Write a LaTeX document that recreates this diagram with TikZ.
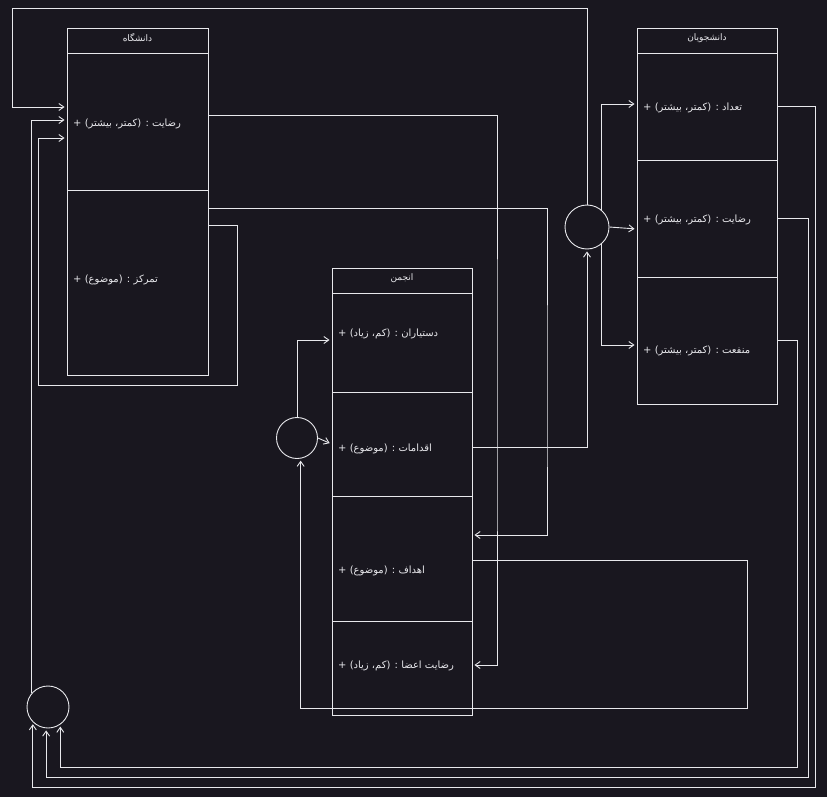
\documentclass[tikz,border=0pt]{standalone}
\usepackage{fontspec}
\TeXXeTstate=1
\newfontfamily\arabicfont[Script=Arabic]{DejaVu Sans}
\usetikzlibrary{arrows.meta}
\definecolor{bg}{RGB}{25,23,31}
\definecolor{ink}{RGB}{232,232,236}
\tikzset{
  row/.style={draw=ink, line width=0.9pt, rectangle, inner sep=0pt},
  txt/.style={text=ink, anchor=west, inner sep=0pt, font=\arabicfont\fontsize{10}{12}\selectfont},
  ttl/.style={text=ink, inner sep=0pt, font=\arabicfont\fontsize{9}{11}\selectfont},
  knot/.style={draw=ink, line width=0.9pt, circle, inner sep=0pt},
  arr/.style={draw=ink, line width=0.9pt, shorten >=2pt, -{Straight Barb[length=5pt,width=7pt]}}
}
\begin{document}
\begin{tikzpicture}[x=1pt,y=-1pt]
\fill[bg] (0,0) rectangle (827,797);
\useasboundingbox (0,0) rectangle (827,797);
% university
\node[row, minimum width=141pt, minimum height=25pt] (uniHead) at (137.5,40.5) {};
\node[row, minimum width=141pt, minimum height=137pt] (uniSat) at (137.5,121.5) {};
\node[row, minimum width=141pt, minimum height=185pt] (uniFocus) at (137.5,282.5) {};
\node[ttl] (uniName) at (137.5,38) {\beginR دانشگاه\endR};
\node[txt] (uniSatT) at (73,124) {\beginR رضایت : (کمتر، بیشتر) +\endR};
\node[txt] (uniFocusT) at (73,280) {\beginR تمرکز : (موضوع) +\endR};
% students
\node[row, minimum width=140pt, minimum height=25pt] (stuHead) at (707,40.5) {};
\node[row, minimum width=140pt, minimum height=107pt] (stuNum) at (707,106.5) {};
\node[row, minimum width=140pt, minimum height=117pt] (stuSat) at (707,218.5) {};
\node[row, minimum width=140pt, minimum height=127pt] (stuGain) at (707,340.5) {};
\node[ttl] (stuName) at (707,38) {\beginR دانشجویان\endR};
\node[txt] (stuNumT) at (643,108) {\beginR تعداد : (کمتر، بیشتر) +\endR};
\node[txt] (stuSatT) at (643,220) {\beginR رضایت : (کمتر، بیشتر) +\endR};
\node[txt] (stuGainT) at (643,351) {\beginR منفعت : (کمتر، بیشتر) +\endR};
% association
\node[row, minimum width=140pt, minimum height=25pt] (anjHead) at (402,280.5) {};
\node[row, minimum width=140pt, minimum height=99pt] (anjAsst) at (402,342.5) {};
\node[row, minimum width=140pt, minimum height=104pt] (anjAct) at (402,444) {};
\node[row, minimum width=140pt, minimum height=125pt] (anjGoal) at (402,558.5) {};
\node[row, minimum width=140pt, minimum height=94pt] (anjSat) at (402,668) {};
\node[ttl] (anjName) at (402,278) {\beginR انجمن\endR};
\node[txt] (anjAsstT) at (338,334) {\beginR دستیاران : (کم، زیاد) +\endR};
\node[txt] (anjActT) at (338,449) {\beginR اقدامات : (موضوع) +\endR};
\node[txt] (anjGoalT) at (338,571) {\beginR اهداف : (موضوع) +\endR};
\node[txt] (anjSatT) at (338,666) {\beginR رضایت اعضا : (کم، زیاد) +\endR};
% junctions
\node[knot, minimum size=44pt] (circA) at (587,227) {};
\node[knot, minimum size=41pt] (circB) at (297,438) {};
\node[knot, minimum size=42pt] (circC) at (48,707) {};
% corner points
\coordinate (topA) at (587,8);
\coordinate (topL) at (12,8);
\coordinate (loopSE) at (237,385);
\coordinate (loopSW) at (38,385);
\coordinate (colA) at (497,400);
\coordinate (colB) at (547,400);
\coordinate (goalSE) at (747,708);
\coordinate (rimA) at (815,787);
\coordinate (rimB) at (808,777);
\coordinate (rimC) at (797,767);
% connectors
\draw[arr] (circA.north) -- (topA) -- (topL) |- ([yshift=14.5pt]uniSat.west);
\draw[arr] (circC.140) |- ([yshift=1.5pt]uniSat.west);
\draw[arr] ([yshift=57.5pt]uniFocus.east) -| (loopSE) -- (loopSW) |- ([yshift=-16.5pt]uniSat.west);
\draw[arr] ([yshift=6.5pt]uniSat.east) -| (colA) |- ([yshift=3pt]anjSat.east);
\draw[arr] ([yshift=74.5pt]uniFocus.east) -| (colB) |- ([yshift=23.5pt]anjGoal.east);
\draw[arr] ([yshift=-3pt]anjAct.east) -| (circA.south);
\draw[arr] (circA.50) |- ([yshift=2.5pt]stuNum.west);
\draw[arr] (circA.east) -- ([yshift=-10.5pt]stuSat.west);
\draw[arr] (circA.-50) |- ([yshift=-4.5pt]stuGain.west);
\draw[arr] (circB.north) |- ([yshift=2.5pt]anjAsst.west);
\draw[arr] (circB.east) -- (anjAct.west);
\draw[arr] ([yshift=-1.5pt]anjGoal.east) -| (goalSE) -| (circB.-80);
\draw[arr] ([yshift=0.5pt]stuNum.east) -| (rimA) -| (circC.-135);
\draw[arr] ([yshift=0.5pt]stuSat.east) -| (rimB) -| (circC.-95);
\draw[arr] ([yshift=0.5pt]stuGain.east) -| (rimC) -| (circC.-55);
\end{tikzpicture}
\end{document}
